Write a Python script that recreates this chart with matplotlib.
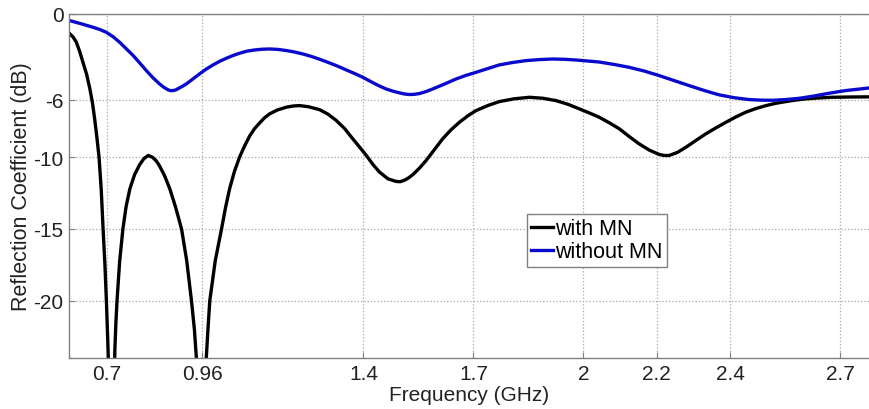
import matplotlib
matplotlib.use("Agg")
import matplotlib.pyplot as plt

# ---- data ----
freq_with = [0.600, 0.608, 0.617, 0.626, 0.635, 0.645, 0.654, 0.661, 0.667, 0.673,
             0.679, 0.685, 0.690, 0.695, 0.699, 0.703, 0.707, 0.714, 0.722, 0.725,
             0.728, 0.735, 0.744, 0.753, 0.763, 0.776, 0.790, 0.801, 0.813, 0.825,
             0.835, 0.844, 0.858, 0.872, 0.888, 0.904, 0.918, 0.931, 0.939, 0.945,
             0.958, 0.971, 0.976, 0.981, 0.996, 1.013, 1.024, 1.035, 1.048, 1.062,
             1.076, 1.090, 1.103, 1.117, 1.130, 1.144, 1.165, 1.190, 1.208, 1.226,
             1.250, 1.280, 1.303, 1.326, 1.349, 1.371, 1.390, 1.408, 1.426, 1.444,
             1.467, 1.489, 1.500, 1.512, 1.524, 1.535, 1.553, 1.571, 1.594, 1.616,
             1.639, 1.662, 1.685, 1.707, 1.740, 1.771, 1.810, 1.853, 1.890, 1.925,
             1.958, 1.989, 2.016, 2.043, 2.070, 2.098, 2.125, 2.152, 2.180, 2.207,
             2.220, 2.234, 2.257, 2.280, 2.307, 2.334, 2.361, 2.389, 2.416, 2.443,
             2.470, 2.498, 2.525, 2.552, 2.580, 2.607, 2.640, 2.679, 2.730, 2.779]
db_with = [-1.4, -1.6, -1.97, -2.6, -3.37, -4.2, -5.23, -6.2, -7.32, -8.6,
           -10.0, -12.3, -15.0, -17.5, -20.0, -23.0, -26.5, -40.0, -23.5, -21.5,
           -20.0, -17.3, -15.0, -13.4, -12.2, -11.2, -10.5, -10.1, -9.87, -10.0,
           -10.25, -10.6, -11.3, -12.2, -13.5, -15.0, -17.2, -20.0, -22.0, -24.2,
           -40.0, -24.2, -22.0, -20.0, -17.2, -15.0, -13.5, -12.2, -11.0, -10.0,
           -9.2, -8.5, -8.0, -7.6, -7.25, -6.97, -6.7, -6.5, -6.42, -6.39,
           -6.47, -6.67, -6.98, -7.43, -8.0, -8.71, -9.3, -9.87, -10.5, -11.03,
           -11.5, -11.68, -11.7, -11.6, -11.42, -11.2, -10.75, -10.22, -9.45, -8.71,
           -8.08, -7.55, -7.1, -6.74, -6.38, -6.11, -5.92, -5.81, -5.88, -6.04,
           -6.3, -6.62, -6.9, -7.2, -7.58, -8.01, -8.55, -9.06, -9.5, -9.8,
           -9.87, -9.87, -9.65, -9.29, -8.82, -8.36, -7.95, -7.55, -7.18, -6.85,
           -6.6, -6.39, -6.23, -6.11, -6.0, -5.92, -5.86, -5.81, -5.79, -5.78]

freq_without = [0.600, 0.630, 0.663, 0.681, 0.699, 0.717, 0.735, 0.753, 0.772, 0.790,
                0.808, 0.826, 0.844, 0.856, 0.868, 0.875, 0.881, 0.888, 0.895, 0.906,
                0.917, 0.935, 0.953, 0.971, 0.990, 1.008, 1.026, 1.044, 1.062, 1.081,
                1.100, 1.122, 1.144, 1.167, 1.190, 1.212, 1.235, 1.258, 1.280, 1.303,
                1.326, 1.344, 1.362, 1.380, 1.398, 1.414, 1.430, 1.446, 1.462, 1.480,
                1.498, 1.512, 1.526, 1.540, 1.553, 1.571, 1.589, 1.620, 1.653, 1.680,
                1.707, 1.740, 1.771, 1.808, 1.844, 1.880, 1.916, 1.948, 1.980, 2.012,
                2.043, 2.084, 2.125, 2.166, 2.207, 2.248, 2.289, 2.330, 2.370, 2.411,
                2.452, 2.484, 2.516, 2.552, 2.589, 2.625, 2.661, 2.689, 2.716, 2.748,
                2.779]
db_without = [-0.47, -0.68, -0.93, -1.08, -1.28, -1.58, -1.97, -2.42, -2.9, -3.42,
              -3.95, -4.45, -4.88, -5.12, -5.3, -5.35, -5.34, -5.3, -5.2, -5.05,
              -4.88, -4.53, -4.18, -3.85, -3.55, -3.3, -3.09, -2.9, -2.74, -2.6,
              -2.52, -2.46, -2.44, -2.47, -2.55, -2.65, -2.79, -2.96, -3.15, -3.37,
              -3.6, -3.8, -4.0, -4.2, -4.41, -4.63, -4.85, -5.05, -5.23, -5.38,
              -5.5, -5.58, -5.62, -5.6, -5.55, -5.41, -5.23, -4.9, -4.53, -4.28,
              -4.07, -3.8, -3.55, -3.38, -3.25, -3.18, -3.14, -3.16, -3.21, -3.28,
              -3.35, -3.52, -3.72, -3.98, -4.3, -4.65, -5.0, -5.34, -5.64, -5.84,
              -5.97, -6.01, -6.02, -5.97, -5.88, -5.74, -5.57, -5.45, -5.34, -5.25,
              -5.16]

xticks = [0.7, 0.96, 1.4, 1.7, 2.0, 2.2, 2.4, 2.7]
xtick_labels = ["0.7", "0.96", "1.4", "1.7", "2", "2.2", "2.4", "2.7"]
yticks = [0, -6, -10, -15, -20]
ytick_labels = ["0", "-6", "-10", "-15", "-20"]
series_labels = ["with MN", "without MN"]

plt.rcParams['font.family'] = ['Liberation Sans', 'DejaVu Sans']

fig = plt.figure(figsize=(8.7, 4.1), dpi=100)
ax = fig.add_axes([69 / 870, 1 - 359 / 410, 800 / 870, (359 - 15) / 410])

ax.plot(freq_with, db_with, color='black', lw=2.4, label=series_labels[0],
        solid_joinstyle='round')
ax.plot(freq_without, db_without, color='#0a0acc', lw=2.4, label=series_labels[1],
        solid_joinstyle='round')

ax.set_xlim(0.597, 2.779)
ax.set_ylim(-24, 0)
ax.set_xticks(xticks)
ax.set_xticklabels(xtick_labels)
ax.set_yticks(yticks)
ax.set_yticklabels(ytick_labels)

ax.grid(True, linestyle=':', color='#a8a8a8', lw=0.9)
ax.tick_params(direction='in', length=4, color='#808080', labelsize=15,
               labelcolor='#222222', pad=4)
for name, sp in ax.spines.items():
    sp.set_color('#808080')
    sp.set_linewidth(1.0)
ax.spines['right'].set_visible(False)

ax.set_xlabel("Frequency (GHz)", fontsize=15, color='#222222', labelpad=2)
ax.set_ylabel("Reflection Coefficient (dB)", fontsize=15.5, color='#222222', labelpad=1)

leg = ax.legend(loc='upper left', bbox_to_anchor=(527 / 870, 1 - 215 / 410),
                bbox_transform=fig.transFigure, fontsize=15.5, frameon=True,
                fancybox=False, framealpha=1, edgecolor='#808080',
                handlelength=1.0, handletextpad=0.1, borderpad=0.2,
                labelspacing=0.1, borderaxespad=0)
leg.get_frame().set_linewidth(1.0)

fig.savefig("out.png", dpi=100)
